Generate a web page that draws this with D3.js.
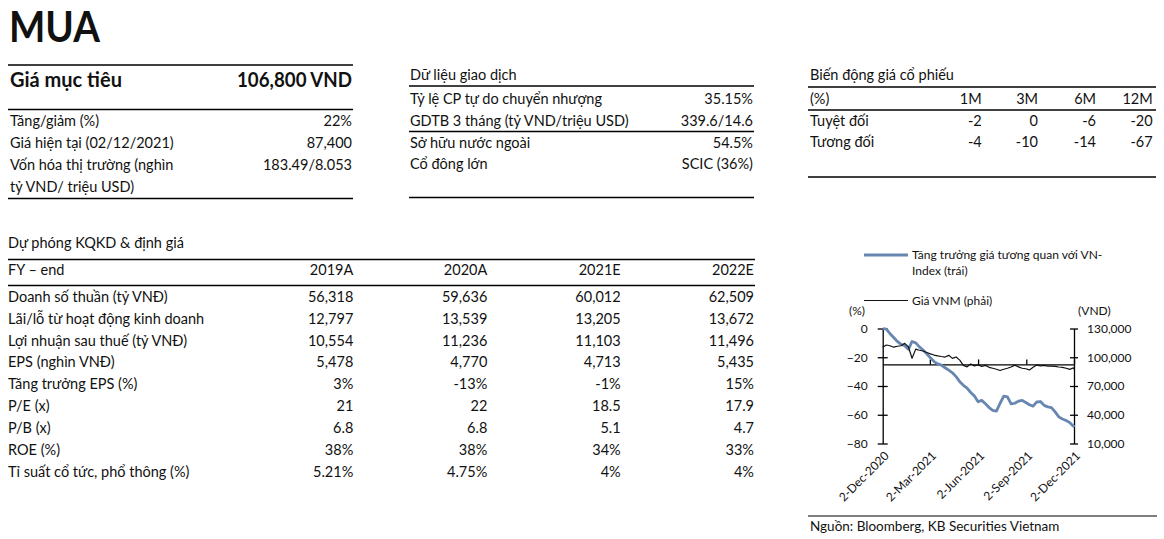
<!DOCTYPE html>
<html><head><meta charset="utf-8">
<script src="https://cdn.jsdelivr.net/npm/d3@7"></script>
<style>
body{margin:0;background:#fff;}
svg text{font-family:Lato,"Noto Sans",sans-serif;fill:#111;}
</style></head><body>
<svg id="c" width="1164" height="539"></svg>
<script>
// ---------- DATA ----------
const title = "MUA";
const targetLabel = "Giá mục tiêu";
const targetValue = "106,800 VND";
const summaryLabels = ["Tăng/giảm (%)", "Giá hiện tại (02/12/2021)", "Vốn hóa thị trường (nghìn", "tỷ VND/ triệu USD)"];
const summaryValues = ["22%", "87,400", "183.49/8.053", ""];

const tradingTitle = "Dữ liệu giao dịch";
const tradingLabels = ["Tỷ lệ CP tự do chuyển nhượng", "GDTB 3 tháng (tỷ VND/triệu USD)", "Sở hữu nước ngoài", "Cổ đông lớn"];
const tradingValues = ["35.15%", "339.6/14.6", "54.5%", "SCIC (36%)"];

const perfTitle = "Biến động giá cổ phiếu";
const perfHeaders = ["(%)", "1M", "3M", "6M", "12M"];
const perfRowLabels = ["Tuyệt đối", "Tương đối"];
const perfAbsolute = [-2, 0, -6, -20];
const perfRelative = [-4, -10, -14, -67];

const fcTitle = "Dự phóng KQKD & định giá";
const fcHeaderLabel = "FY – end";
const fcYears = ["2019A", "2020A", "2021E", "2022E"];
const fcMetrics = ["Doanh số thuần (tỷ VNĐ)", "Lãi/lỗ từ hoạt động kinh doanh", "Lợi nhuận sau thuế (tỷ VNĐ)", "EPS (nghìn VNĐ)", "Tăng trưởng EPS (%)", "P/E (x)", "P/B (x)", "ROE (%)", "Tỉ suất cổ tức, phổ thông (%)"];
const fc2019 = ["56,318", "12,797", "10,554", "5,478", "3%", "21", "6.8", "38%", "5.21%"];
const fc2020 = ["59,636", "13,539", "11,236", "4,770", "-13%", "22", "6.8", "38%", "4.75%"];
const fc2021 = ["60,012", "13,205", "11,103", "4,713", "-1%", "18.5", "5.1", "34%", "4%"];
const fc2022 = ["62,509", "13,672", "11,496", "5,435", "15%", "17.9", "4.7", "33%", "4%"];

const legendBlue = ["Tăng trưởng giá tương quan với VN-", "Index (trái)"];
const legendBlack = "Giá VNM (phải)";
const leftUnit = "(%)";
const rightUnit = "(VND)";
const sourceText = "Nguồn: Bloomberg, KB Securities Vietnam";

const dates = ["2020-12-02","2020-12-09","2020-12-16","2020-12-23","2020-12-30",
  "2021-01-06","2021-01-13","2021-01-20","2021-01-27",
  "2021-02-03","2021-02-10","2021-02-17","2021-02-24",
  "2021-03-03","2021-03-10","2021-03-17","2021-03-24","2021-03-31",
  "2021-04-07","2021-04-14","2021-04-21","2021-04-28",
  "2021-05-05","2021-05-12","2021-05-19","2021-05-26",
  "2021-06-02","2021-06-09","2021-06-16","2021-06-23","2021-06-30",
  "2021-07-07","2021-07-14","2021-07-21","2021-07-28",
  "2021-08-04","2021-08-11","2021-08-18","2021-08-25",
  "2021-09-01","2021-09-08","2021-09-15","2021-09-22","2021-09-29",
  "2021-10-06","2021-10-13","2021-10-20","2021-10-27",
  "2021-11-03","2021-11-10","2021-11-17","2021-11-24",
  "2021-12-01","2021-12-02"];
const relGrowth = [0, -0.5, -3.6, -6.3, -9,
  -11, -12, -14.5, -9,
  -10, -12.8, -15, -17.6,
  -20.4, -23, -24.6, -25.5, -27.3,
  -29, -30.8, -33.5, -37,
  -39.5, -41.5, -44.5, -47,
  -51, -50, -52.3, -55, -57,
  -57.5, -52, -47, -47.5,
  -52.5, -52, -50.5, -50,
  -51.5, -53, -54, -51, -50.8,
  -53.5, -54.5, -55, -58,
  -61.5, -63, -64, -65.5,
  -68, -67];
const priceVNM = [110500, 112800, 112000, 110500, 111500,
  112000, 114500, 111000, 99000,
  108500, 107300, 106500, 105000,
  103500, 102300, 101500, 100800, 100200,
  102000, 98800, 100300, 97000,
  91500, 90000, 93000, 91000,
  92000, 90500, 91500, 89500, 88500,
  87500, 86200, 87500, 88500,
  89800, 91800, 90000, 88500,
  88000, 86800, 89500, 91800, 91000,
  91500, 90800, 90800, 90500,
  89800, 89500, 88500, 87300,
  89000, 87400];
const leftTicks = [0, -20, -40, -60, -80];
const rightTicks = [130000, 100000, 70000, 40000, 10000];
const xTickDates = ["2020-12-02", "2021-03-02", "2021-06-02", "2021-09-02", "2021-12-02"];
const xAxisCross = -25;

// ---------- DRAW ----------
const svg = d3.select("#c");
svg.append("rect").attr("width", 1164).attr("height", 539).attr("fill", "#fff");
const FS = 14.5;

function hline(x1, x2, y, w) {
  svg.append("line").attr("x1", x1).attr("x2", x2).attr("y1", y).attr("y2", y)
    .attr("stroke", "#000").attr("stroke-width", w || 1.5);
}
function txt(x, y, s, opts) {
  opts = opts || {};
  return svg.append("text").attr("x", x).attr("y", y).attr("dy", "0.35em")
    .attr("text-anchor", opts.anchor || "start")
    .style("font-size", (opts.size || FS) + "px")
    .style("font-weight", opts.weight || 400)
    .text(s);
}

// Title
svg.append("text").attr("x", 9).attr("y", 42).text(title)
  .attr("textLength", 91).attr("lengthAdjust", "spacingAndGlyphs")
  .style("font-size", "42px").style("font-weight", 700);

// Left top block
hline(8, 353, 65);
txt(10, 80, targetLabel, {size: 20, weight: 700});
txt(352, 80, targetValue, {size: 20, weight: 700, anchor: "end"}).attr("textLength", 115).attr("lengthAdjust", "spacingAndGlyphs");
hline(8, 353, 109.5);
const sumY = d3.scaleLinear().domain([0, 1]).range([120.7, 142.7]);
summaryLabels.forEach((l, i) => {
  txt(10, sumY(i), l);
  if (summaryValues[i]) txt(352, sumY(i), summaryValues[i], {anchor: "end"});
});
hline(8, 353, 198.5);

// Middle top block
txt(410, 75, tradingTitle);
hline(409, 754, 86);
const trY = [99, 121, 142.7, 164.3];
tradingLabels.forEach((l, i) => {
  txt(410, trY[i], l);
  txt(753, trY[i], tradingValues[i], {anchor: "end"});
});
hline(409, 754, 131.5);
hline(409, 754, 197.5);

// Right top block
txt(810, 75, perfTitle);
hline(808, 1156, 87);
const perfX = [810, 981.7, 1038, 1096, 1152.7];
perfHeaders.forEach((h, i) => txt(perfX[i], 99.3, h, {anchor: i === 0 ? "start" : "end"}));
hline(808, 1156, 110);
[perfAbsolute, perfRelative].forEach((row, r) => {
  const y = r === 0 ? 121 : 141.7;
  txt(810, y, perfRowLabels[r]);
  row.forEach((v, i) => txt(perfX[i + 1], y, String(v), {anchor: "end"}));
});
hline(808, 1156, 177);

// Forecast table
txt(8, 243.3, fcTitle);
hline(8, 755, 259.5);
const fcX = [353.3, 487.3, 620.7, 754];
txt(8, 270, fcHeaderLabel);
fcYears.forEach((y, i) => txt(fcX[i], 270, y, {anchor: "end"}));
hline(8, 755, 285.5);
const fcCols = [fc2019, fc2020, fc2021, fc2022];
const rowY = d3.scaleLinear().domain([0, 1]).range([296.7, 318.6]);
fcMetrics.forEach((m, r) => {
  txt(8, rowY(r), m);
  fcCols.forEach((col, c) => txt(fcX[c], rowY(r), col[r], {anchor: "end"}));
});

// ---------- Chart ----------
const parse = d3.timeParse("%Y-%m-%d");
const fmt = d3.timeFormat("%-d-%b-%Y");
const X0 = 882.7, X1 = 1074, YT = 328.5, YB = 443.5;
const x = d3.scaleTime().domain([parse(xTickDates[0]), parse(xTickDates[xTickDates.length - 1])]).range([X0, X1]);
const yL = d3.scaleLinear().domain([-80, 0]).range([YB, YT]);
const yR = d3.scaleLinear().domain([10000, 130000]).range([YB, YT]);
const CFS = 12;

// x axis line
const xAxis = d3.axisTop(x).tickValues(xTickDates.slice(1).map(parse)).tickSizeInner(5).tickSizeOuter(0).tickFormat("");
const gx = svg.append("g").attr("transform", `translate(0,${yL(xAxisCross)})`).call(xAxis);
gx.select(".domain").attr("stroke", "#000").attr("stroke-width", 1.3);
gx.selectAll(".tick line").attr("stroke", "#000").attr("stroke-width", 1.3);

// x labels
xTickDates.forEach(d => {
  const px = x(parse(d));
  svg.append("text").attr("transform", `translate(${px + 4},${YB + 10}) rotate(-45)`)
    .attr("text-anchor", "end").attr("dy", "0.35em")
    .style("font-size", CFS + "px").text(fmt(parse(d)));
});

// left axis
const gl = svg.append("g").attr("transform", `translate(${X0},0)`)
  .call(d3.axisLeft(yL).tickValues(leftTicks).tickSizeInner(5).tickSizeOuter(0).tickPadding(10));
gl.select(".domain").attr("stroke", "#000").attr("stroke-width", 1.3);
gl.selectAll(".tick line").attr("x1", 5).attr("x2", -5).attr("stroke", "#000").attr("stroke-width", 1.3);
gl.selectAll(".tick text").style("font-size", CFS + "px").style("font-family", "Lato").attr("fill", "#111");

// right axis
const gr = svg.append("g").attr("transform", `translate(${X1},0)`)
  .call(d3.axisRight(yR).tickValues(rightTicks).tickSizeInner(4).tickSizeOuter(0).tickPadding(9).tickFormat(d3.format(",")));
gr.select(".domain").attr("stroke", "#000").attr("stroke-width", 1.3);
gr.selectAll(".tick line").attr("x1", -4).attr("x2", 4).attr("stroke", "#000").attr("stroke-width", 1.3);
gr.selectAll(".tick text").style("font-size", CFS + "px").style("font-family", "Lato").attr("fill", "#111");

// unit labels
txt(865, 311, leftUnit, {size: CFS, anchor: "end"});
txt(1078, 311, rightUnit, {size: CFS});

// lines
const pts = dates.map((d, i) => ({d: parse(d), r: relGrowth[i], p: priceVNM[i]}));
svg.append("path").datum(pts).attr("fill", "none").attr("stroke", "#6787b1").attr("stroke-width", 2.8)
  .attr("stroke-linejoin", "round")
  .attr("d", d3.line().x(p => x(p.d)).y(p => yL(p.r)));
svg.append("path").datum(pts).attr("fill", "none").attr("stroke", "#111").attr("stroke-width", 1.2)
  .attr("stroke-linejoin", "round")
  .attr("d", d3.line().x(p => x(p.d)).y(p => yR(p.p)));

// legend
svg.append("line").attr("x1", 864).attr("x2", 908).attr("y1", 255).attr("y2", 255)
  .attr("stroke", "#6787b1").attr("stroke-width", 2.8);
txt(912, 255, legendBlue[0], {size: CFS});
txt(912, 270.5, legendBlue[1], {size: CFS});
svg.append("line").attr("x1", 864).attr("x2", 908).attr("y1", 300.5).attr("y2", 300.5)
  .attr("stroke", "#111").attr("stroke-width", 1.2);
txt(912, 300.5, legendBlack, {size: CFS});

// source
hline(808, 1157, 516, 1.2);
txt(810, 526, sourceText, {size: 13.5});
</script></body></html>
